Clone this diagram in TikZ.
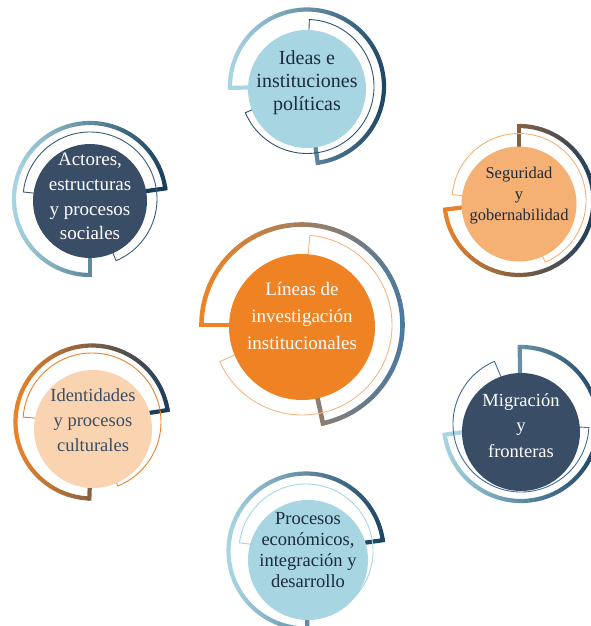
\documentclass[tikz,border=0pt]{standalone}
\usepackage{fontspec}
\setmainfont{Liberation Serif}
\usetikzlibrary{calc}

\definecolor{paleblue}{HTML}{A7D5E2}
\definecolor{deepnavy}{HTML}{1E4766}
\definecolor{darknavy}{HTML}{173D59}
\definecolor{inknavy}{HTML}{1E3E5C}
\definecolor{slatenavy}{HTML}{394E66}
\definecolor{steelblue}{HTML}{3E6D97}
\definecolor{dullblue}{HTML}{4D79A0}
\definecolor{linenavy}{HTML}{2C5472}
\definecolor{burnt}{HTML}{E8822A}
\definecolor{coreorange}{HTML}{EF8324}
\definecolor{apricot}{HTML}{F5B073}
\definecolor{softapricot}{HTML}{F6B582}
\definecolor{peach}{HTML}{FAD4B0}
\definecolor{inkdark}{HTML}{1D2B3A}

\begin{document}
\begin{tikzpicture}[
  x=1pt, y=1pt,
  disk/.style={circle, draw=none, inner sep=0pt, minimum size=#1},
  txtblock/.style={align=center, inner sep=0pt},
  ringline/.style={line width=4.2pt},
  thinring/.style={line width=0.9pt},
]
\useasboundingbox (0,0) rectangle (591,-626);

%% ============ IDEAS E INSTITUCIONES ============
\coordinate (ideasc) at (307,-86.5);
\foreach \i in {0,...,59}{
  \pgfmathsetmacro{\a}{181-\i*4.383}
  \pgfmathsetmacro{\p}{50+50*cos(\a)}
  \draw[ringline, deepnavy!\p!paleblue] ($(ideasc)+(\a:77)$) arc[start angle=\a, delta angle=-4.6, radius=77];
}
\draw[ringline, paleblue] ($(ideasc)+(181:79.1)$) -- ($(ideasc)+(181:40)$);
\draw[ringline, deepnavy!57!paleblue] ($(ideasc)+(-82:79.1)$) -- ($(ideasc)+(-82:40)$);
\draw[thinring, linenavy] ($(ideasc)+(88:40)$) -- ($(ideasc)+(88:67)$)
  arc[start angle=88, end angle=-157, radius=67] -- ($(ideasc)+(-157:40)$);
\node[disk=118pt, fill=paleblue] (ideas) at (307,-89) {};
\node[txtblock, text=inkdark, font=\fontsize{20}{23}\selectfont] (ideastxt) at (307,-83)
  {Ideas e\\instituciones\\políticas};

%% ============ ACTORES ============
\coordinate (actorc) at (90,-199);
\foreach \i in {0,...,59}{
  \pgfmathsetmacro{\a}{270-\i*4.367}
  \pgfmathsetmacro{\p}{50+50*cos(\a)}
  \draw[ringline, darknavy!\p!paleblue] ($(actorc)+(\a:76)$) arc[start angle=\a, delta angle=-4.6, radius=76];
}
\draw[ringline, darknavy!50!paleblue] ($(actorc)+(270:78.1)$) -- ($(actorc)+(270:40)$);
\draw[ringline, darknavy] ($(actorc)+(8:78.1)$) -- ($(actorc)+(8:40)$);
\draw[thinring, darknavy!85!white] ($(actorc)+(174:40)$) -- ($(actorc)+(174:67)$)
  arc[start angle=174, end angle=-67, radius=67] -- ($(actorc)+(-67:40)$);
\node[disk=114pt, fill=slatenavy] (actor) at (90,-201) {};
\node[txtblock, text=white, font=\fontsize{19}{24.7}\selectfont] (actortxt) at (90,-196.7)
  {Actores,\\estructuras\\y procesos\\sociales};

%% ============ SEGURIDAD ============
\coordinate (segurc) at (519,-200.5);
\foreach \i in {0,...,59}{
  \pgfmathsetmacro{\a}{90-\i*4.383}
  \pgfmathsetmacro{\p}{50+50*cos(\a)}
  \draw[ringline, inknavy!\p!burnt] ($(segurc)+(\a:74.5)$) arc[start angle=\a, delta angle=-4.6, radius=74.5];
}
\draw[ringline, inknavy!50!burnt] ($(segurc)+(90:76.6)$) -- ($(segurc)+(90:40)$);
\draw[ringline, burnt] ($(segurc)+(-173:76.6)$) -- ($(segurc)+(-173:40)$);
\draw[thinring, apricot] ($(segurc)+(175:40)$) -- ($(segurc)+(175:67)$)
  arc[start angle=175, end angle=-67, radius=67] -- ($(segurc)+(-67:40)$);
\node[disk=115pt, fill=apricot] (segur) at (519,-204) {};
\node[txtblock, text=inkdark, font=\fontsize{16.5}{21}\selectfont] (segurtxt) at (519,-195.3)
  {Seguridad\\y\\gobernabilidad};

%% ============ LINEAS (CENTRE) ============
\coordinate (lineasc) at (302,-325);
\foreach \i in {0,...,59}{
  \pgfmathsetmacro{\a}{180-\i*4.3}
  \pgfmathsetmacro{\p}{50+50*cos(\a)}
  \draw[ringline, line width=4.6pt, dullblue!\p!coreorange] ($(lineasc)+(\a:100.5)$) arc[start angle=\a, delta angle=-4.5, radius=100.5];
}
\draw[ringline, line width=4.6pt, coreorange] ($(lineasc)+(180:102.8)$) -- ($(lineasc)+(180:50)$);
\draw[ringline, line width=4.6pt, dullblue!60!coreorange] ($(lineasc)+(-78:102.8)$) -- ($(lineasc)+(-78:50)$);
\draw[thinring, softapricot] ($(lineasc)+(85:50)$) -- ($(lineasc)+(85:90)$)
  arc[start angle=85, end angle=-156, radius=90] -- ($(lineasc)+(-156:50)$);
\node[disk=146pt, fill=coreorange] (lineas) at (302,-327) {};
\node[txtblock, text=white, font=\fontsize{19}{27}\selectfont] (lineastxt) at (302,-315.7)
  {Líneas de\\investigación\\institucionales};

%% ============ IDENTIDADES ============
\coordinate (identc) at (92,-422);
\foreach \i in {0,...,59}{
  \pgfmathsetmacro{\a}{9+\i*4.317}
  \pgfmathsetmacro{\p}{50+50*cos(\a)}
  \draw[ringline, inknavy!\p!burnt] ($(identc)+(\a:76.5)$) arc[start angle=\a, delta angle=4.5, radius=76.5];
}
\draw[ringline, inknavy] ($(identc)+(9:78.6)$) -- ($(identc)+(9:40)$);
\draw[ringline, inknavy!48!burnt] ($(identc)+(268:78.6)$) -- ($(identc)+(268:40)$);
\draw[thinring, burnt] ($(identc)+(176:40)$) -- ($(identc)+(176:69)$)
  arc[start angle=176, end angle=-68, radius=69] -- ($(identc)+(-68:40)$);
\node[disk=118pt, fill=peach] (ident) at (93,-429) {};
\node[txtblock, text=slatenavy, font=\fontsize{18.5}{25}\selectfont] (identtxt) at (93,-420.4)
  {Identidades\\y procesos\\culturales};

%% ============ MIGRACION ============
\coordinate (migrac) at (521,-424);
\foreach \i in {0,...,59}{
  \pgfmathsetmacro{\a}{91-\i*4.383}
  \pgfmathsetmacro{\p}{50+50*cos(\a)}
  \draw[ringline, deepnavy!\p!paleblue] ($(migrac)+(\a:77)$) arc[start angle=\a, delta angle=-4.6, radius=77];
}
\draw[ringline, deepnavy!49!paleblue] ($(migrac)+(91:79.1)$) -- ($(migrac)+(91:40)$);
\draw[ringline, paleblue] ($(migrac)+(-172:79.1)$) -- ($(migrac)+(-172:40)$);
\draw[thinring, steelblue] ($(migrac)+(113:40)$) -- ($(migrac)+(113:68)$)
  arc[start angle=113, end angle=357, radius=68] -- ($(migrac)+(357:40)$);
\node[disk=118pt, fill=slatenavy] (migra) at (521,-432) {};
\node[txtblock, text=white, font=\fontsize{18.5}{25.8}\selectfont] (migratxt) at (521,-425.6)
  {Migración\\y\\fronteras};

%% ============ PROCESOS ECONOMICOS ============
\coordinate (procc) at (306,-551);
\foreach \i in {0,...,59}{
  \pgfmathsetmacro{\a}{8+\i*4.383}
  \pgfmathsetmacro{\p}{50+50*cos(\a)}
  \draw[ringline, deepnavy!\p!paleblue] ($(procc)+(\a:77.5)$) arc[start angle=\a, delta angle=4.6, radius=77.5];
}
\draw[ringline, deepnavy] ($(procc)+(8:79.6)$) -- ($(procc)+(8:40)$);
\draw[ringline, deepnavy!51!paleblue] ($(procc)+(271:79.6)$) -- ($(procc)+(271:40)$);
\draw[thinring, paleblue] ($(procc)+(173:40)$) -- ($(procc)+(173:67)$)
  arc[start angle=173, end angle=-65, radius=67] -- ($(procc)+(-65:40)$);
\node[disk=120pt, fill=paleblue] (proc) at (308,-560) {};
\node[txtblock, text=inkdark, font=\fontsize{18.5}{21}\selectfont] (proctxt) at (308,-550.4)
  {Procesos\\económicos,\\integración y\\desarrollo};

\end{tikzpicture}
\end{document}
